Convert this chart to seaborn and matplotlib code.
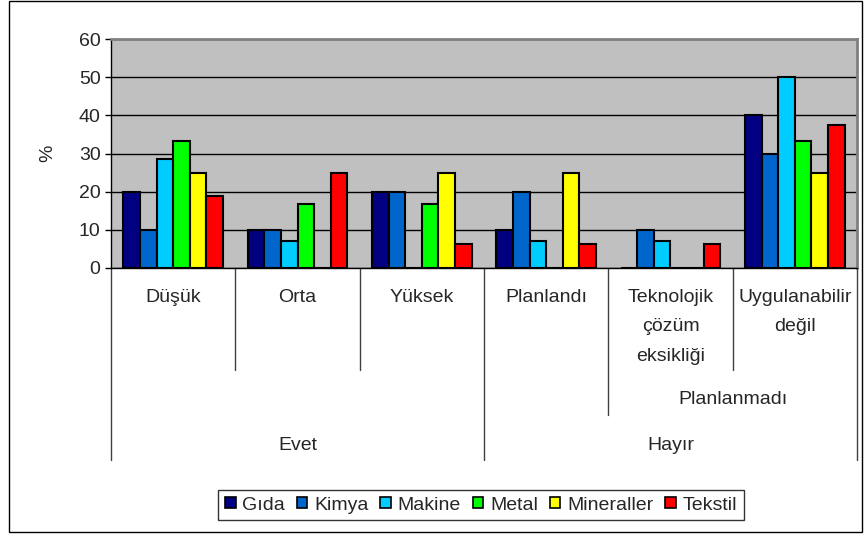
import seaborn as sns
import pandas as pd
import numpy as np
import matplotlib.pyplot as plt
import matplotlib.transforms as mtrans
from matplotlib.patches import Patch, Rectangle

# data (% of firms per sector)
categories = ["Düşük", "Orta", "Yüksek", "Planlandı",
              "Teknolojik\nçözüm\neksikliği", "Uygulanabilir\ndeğil"]
sectors = ["Gıda", "Kimya", "Makine", "Metal", "Mineraller", "Tekstil"]
gida = [20, 10, 20, 10, 0, 40]
kimya = [10, 10, 20, 20, 10, 30]
makine = [28.6, 7.1, 0, 7.1, 7.1, 50]
metal = [33.3, 16.7, 16.7, 0, 0, 33.3]
mineraller = [25, 0, 25, 25, 0, 25]
tekstil = [18.75, 25, 6.25, 6.25, 6.25, 37.5]
colors = ["#000080", "#0066CC", "#00CCFF", "#00FF00", "#FFFF00", "#FF0000"]

# upper grouping levels
level2 = [("Planlanmadı", 4, 5)]
level3 = [("Evet", 0, 2), ("Hayır", 3, 5)]

series = [gida, kimya, makine, metal, mineraller, tekstil]
rows = []
for s, vals in zip(sectors, series):
    for c, v in zip(categories, vals):
        rows.append({"kategori": c, "sektor": s, "deger": v})
df = pd.DataFrame(rows)

sns.set_style("white")
plt.rcParams['font.family'] = ['Liberation Sans', 'DejaVu Sans']
FS = 14

W, H = 864, 535
fig = plt.figure(figsize=(W / 100, H / 100), dpi=100)
ax = fig.add_axes([111 / W, 1 - 268 / H, (857 - 111) / W, (268 - 39) / H])
ax.set_facecolor("#C0C0C0")

sns.barplot(data=df, x="kategori", y="deger", hue="sektor", order=categories,
            hue_order=sectors, palette=colors, width=0.8, edgecolor="black",
            linewidth=1.5, saturation=1, ax=ax, zorder=3, legend=False)

ax.set_xlim(-0.5, len(categories) - 0.5)
ax.set_ylim(0, 60)
ax.set_yticks(np.arange(0, 61, 10))
ax.yaxis.grid(True, color="black", linewidth=1)
ax.set_axisbelow(True)
ax.tick_params(axis="y", direction="out", length=4.5, width=1, color="black",
               labelsize=FS, left=True, pad=3)
ax.set_xticks([])
ax.set_xlabel("")
ax.set_ylabel("")
for side in ["top", "right"]:
    ax.spines[side].set_color("#808080")
    ax.spines[side].set_linewidth(2)
for side in ["left", "bottom"]:
    ax.spines[side].set_color("black")
    ax.spines[side].set_linewidth(1)

fig.text(48 / W, 1 - 153 / H, "%", rotation=90, ha="center", va="center", fontsize=FS)

# multi level category axis
tr = mtrans.blended_transform_factory(ax.transData, fig.transFigure)

def py(p):
    return 1 - p / H

line_ends = {-0.5: 460, 0.5: 370, 1.5: 370, 2.5: 460, 3.5: 415, 4.5: 370, 5.5: 460}
for xv, yend in line_ends.items():
    ax.plot([xv, xv], [py(268), py(yend)], transform=tr, color="#404040",
            linewidth=1, clip_on=False)

for i, c in enumerate(categories):
    ax.text(i, py(289), c, transform=tr, ha="center", va="top", fontsize=FS,
            linespacing=1.95)
for name, a, b in level2:
    ax.text((a + b) / 2, py(400), name, transform=tr, ha="center", va="center", fontsize=FS)
for name, a, b in level3:
    ax.text((a + b) / 2, py(445), name, transform=tr, ha="center", va="center", fontsize=FS)

handles = [Patch(facecolor=col, edgecolor="black", linewidth=1.2) for col in colors]
leg = fig.legend(handles, sectors, loc="center", bbox_to_anchor=(481 / W, py(505)),
                 ncol=6, fontsize=FS, frameon=True, fancybox=False, shadow=False,
                 handlelength=0.55, handleheight=0.55, handletextpad=0.35,
                 columnspacing=0.6, borderpad=0.35, borderaxespad=0)
leg.get_frame().set_edgecolor("black")
leg.get_frame().set_linewidth(1)

fig.patches.append(Rectangle((9 / W, 1 - 532 / H), (862 - 9) / W, (532 - 1) / H,
                             transform=fig.transFigure, fill=False,
                             edgecolor="black", linewidth=1))

fig.savefig("out.png", dpi=100)
